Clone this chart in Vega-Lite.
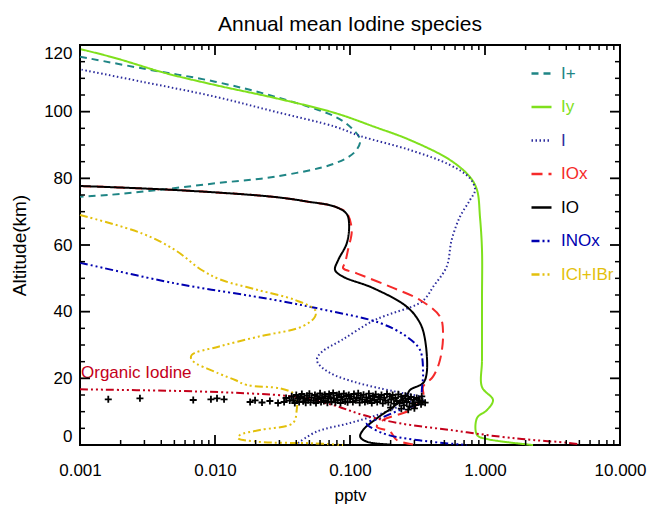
{
  "$schema": "https://vega.github.io/schema/vega-lite/v6.json",
  "width": 540,
  "height": 400,
  "autosize": {"type": "none"},
  "padding": {"left": 80, "top": 45, "right": 29, "bottom": 60},
  "background": "white",
  "title": {"text": "Annual mean Iodine species", "fontSize": 21, "font": "Liberation Sans", "fontWeight": "normal", "color": "black", "offset": 6},
  "datasets": {
    "lines": [
      {"s":"I+","i":1,"x":0.001,"y":116.5},{"s":"I+","i":2,"x":0.00287,"y":113.0},{"s":"I+","i":3,"x":0.01,"y":109.0},{"s":"I+","i":4,"x":0.0278,"y":104.5},{"s":"I+","i":5,"x":0.0775,"y":98.5},{"s":"I+","i":6,"x":0.103,"y":95.0},{"s":"I+","i":7,"x":0.119,"y":91.5},{"s":"I+","i":8,"x":0.109,"y":88.0},{"s":"I+","i":9,"x":0.0775,"y":84.5},{"s":"I+","i":10,"x":0.0278,"y":80.5},{"s":"I+","i":11,"x":0.01,"y":78.5},{"s":"I+","i":12,"x":0.00378,"y":76.5},{"s":"I+","i":13,"x":0.00161,"y":75.0},{"s":"I+","i":14,"x":0.001,"y":74.5},
      {"s":"Iy","i":1,"x":0.001,"y":118.8},{"s":"Iy","i":2,"x":0.00182,"y":116.1},{"s":"Iy","i":3,"x":0.00427,"y":111.6},{"s":"Iy","i":4,"x":0.01,"y":108},{"s":"Iy","i":5,"x":0.0278,"y":104.1},{"s":"Iy","i":6,"x":0.0775,"y":99.6},{"s":"Iy","i":7,"x":0.153,"y":95.4},{"s":"Iy","i":8,"x":0.278,"y":91.5},{"s":"Iy","i":9,"x":0.551,"y":85.5},{"s":"Iy","i":10,"x":0.774,"y":80.4},{"s":"Iy","i":11,"x":0.873,"y":76.5},{"s":"Iy","i":12,"x":0.918,"y":68.4},{"s":"Iy","i":13,"x":0.95,"y":58.5},{"s":"Iy","i":14,"x":0.95,"y":43.5},{"s":"Iy","i":15,"x":0.95,"y":25.5},{"s":"Iy","i":16,"x":0.95,"y":17.4},{"s":"Iy","i":17,"x":1.146,"y":13.5},{"s":"Iy","i":18,"x":1.035,"y":10.5},{"s":"Iy","i":19,"x":0.873,"y":8.1},{"s":"Iy","i":20,"x":0.873,"y":3},{"s":"Iy","i":21,"x":1.035,"y":1.8},{"s":"Iy","i":22,"x":2.27,"y":0},
      {"s":"I","i":1,"x":0.0412,"y":0.6},{"s":"I","i":2,"x":0.0566,"y":4},{"s":"I","i":3,"x":0.1,"y":6.6},{"s":"I","i":4,"x":0.176,"y":9.6},{"s":"I","i":5,"x":0.263,"y":12.6},{"s":"I","i":6,"x":0.34,"y":14.3},{"s":"I","i":7,"x":0.25,"y":15.5},{"s":"I","i":8,"x":0.176,"y":16.8},{"s":"I","i":9,"x":0.11,"y":18.8},{"s":"I","i":10,"x":0.072,"y":21.5},{"s":"I","i":11,"x":0.058,"y":24.5},{"s":"I","i":12,"x":0.057,"y":26},{"s":"I","i":13,"x":0.062,"y":28},{"s":"I","i":14,"x":0.0869,"y":31.5},{"s":"I","i":15,"x":0.153,"y":37.5},{"s":"I","i":16,"x":0.33,"y":42.6},{"s":"I","i":17,"x":0.37,"y":44.5},{"s":"I","i":18,"x":0.412,"y":47.4},{"s":"I","i":19,"x":0.52,"y":53.5},{"s":"I","i":20,"x":0.566,"y":61.5},{"s":"I","i":21,"x":0.653,"y":68.5},{"s":"I","i":22,"x":0.774,"y":73.5},{"s":"I","i":23,"x":0.844,"y":76.5},{"s":"I","i":24,"x":0.774,"y":80},{"s":"I","i":25,"x":0.551,"y":84},{"s":"I","i":26,"x":0.278,"y":88.5},{"s":"I","i":27,"x":0.119,"y":92.7},{"s":"I","i":28,"x":0.0775,"y":95.5},{"s":"I","i":29,"x":0.0278,"y":100},{"s":"I","i":30,"x":0.01,"y":104.5},{"s":"I","i":31,"x":0.00287,"y":109},{"s":"I","i":32,"x":0.001,"y":112.7},
      {"s":"IOx","i":1,"x":0.001,"y":77.7},{"s":"IOx","i":2,"x":0.00506,"y":76.5},{"s":"IOx","i":3,"x":0.0278,"y":74.4},{"s":"IOx","i":4,"x":0.0489,"y":73.0},{"s":"IOx","i":5,"x":0.0775,"y":71.5},{"s":"IOx","i":6,"x":0.0946,"y":69.6},{"s":"IOx","i":7,"x":0.103,"y":64.5},{"s":"IOx","i":8,"x":0.0966,"y":58.5},{"s":"IOx","i":9,"x":0.0918,"y":54.6},{"s":"IOx","i":10,"x":0.0888,"y":53.1},{"s":"IOx","i":11,"x":0.112,"y":51.5},{"s":"IOx","i":12,"x":0.198,"y":47.5},{"s":"IOx","i":13,"x":0.33,"y":43.5},{"s":"IOx","i":14,"x":0.464,"y":38.5},{"s":"IOx","i":15,"x":0.489,"y":33.6},{"s":"IOx","i":16,"x":0.464,"y":25.5},{"s":"IOx","i":17,"x":0.412,"y":20.5},{"s":"IOx","i":18,"x":0.348,"y":17.5},{"s":"IOx","i":19,"x":0.348,"y":14.5},{"s":"IOx","i":20,"x":0.278,"y":10.5},{"s":"IOx","i":21,"x":0.176,"y":7.5},{"s":"IOx","i":22,"x":0.158,"y":5.5},{"s":"IOx","i":23,"x":0.198,"y":4},{"s":"IOx","i":24,"x":0.222,"y":1.5},{"s":"IOx","i":25,"x":0.293,"y":0.15},
      {"s":"IO","i":1,"x":0.001,"y":77.7},{"s":"IO","i":2,"x":0.00506,"y":76.5},{"s":"IO","i":3,"x":0.0278,"y":74.4},{"s":"IO","i":4,"x":0.0489,"y":73.0},{"s":"IO","i":5,"x":0.0775,"y":71.5},{"s":"IO","i":6,"x":0.0946,"y":69.3},{"s":"IO","i":7,"x":0.0985,"y":66},{"s":"IO","i":8,"x":0.0946,"y":60.5},{"s":"IO","i":9,"x":0.0818,"y":55.5},{"s":"IO","i":10,"x":0.0775,"y":52.5},{"s":"IO","i":11,"x":0.0888,"y":50.5},{"s":"IO","i":12,"x":0.148,"y":47.1},{"s":"IO","i":13,"x":0.263,"y":41.5},{"s":"IO","i":14,"x":0.33,"y":36.6},{"s":"IO","i":15,"x":0.36,"y":31.5},{"s":"IO","i":16,"x":0.37,"y":21.6},{"s":"IO","i":17,"x":0.348,"y":18.6},{"s":"IO","i":18,"x":0.278,"y":16.5},{"s":"IO","i":19,"x":0.263,"y":14.8},{"s":"IO","i":20,"x":0.21,"y":11.5},{"s":"IO","i":21,"x":0.158,"y":8},{"s":"IO","i":22,"x":0.125,"y":4.5},{"s":"IO","i":23,"x":0.119,"y":2.5},{"s":"IO","i":24,"x":0.133,"y":1},{"s":"IO","i":25,"x":0.198,"y":0.15},
      {"s":"INOx","i":1,"x":0.001,"y":54.7},{"s":"INOx","i":2,"x":0.00506,"y":48.5},{"s":"INOx","i":3,"x":0.0278,"y":43.5},{"s":"INOx","i":4,"x":0.0654,"y":40.5},{"s":"INOx","i":5,"x":0.167,"y":36.6},{"s":"INOx","i":6,"x":0.263,"y":32.5},{"s":"INOx","i":7,"x":0.33,"y":28.5},{"s":"INOx","i":8,"x":0.348,"y":21.6},{"s":"INOx","i":9,"x":0.34,"y":15.6},{"s":"INOx","i":10,"x":0.348,"y":13},{"s":"INOx","i":11,"x":0.234,"y":10.5},{"s":"INOx","i":12,"x":0.167,"y":8},{"s":"INOx","i":13,"x":0.133,"y":6.5},{"s":"INOx","i":14,"x":0.176,"y":3.5},{"s":"INOx","i":15,"x":0.312,"y":1.5},{"s":"INOx","i":16,"x":0.732,"y":0},
      {"s":"ICl+IBr","i":1,"x":0.001,"y":69},{"s":"ICl+IBr","i":2,"x":0.00287,"y":63.5},{"s":"ICl+IBr","i":3,"x":0.00506,"y":58.5},{"s":"ICl+IBr","i":4,"x":0.00796,"y":52.5},{"s":"ICl+IBr","i":5,"x":0.0112,"y":49.5},{"s":"ICl+IBr","i":6,"x":0.0209,"y":46.5},{"s":"ICl+IBr","i":7,"x":0.0392,"y":43.5},{"s":"ICl+IBr","i":8,"x":0.0551,"y":40.5},{"s":"ICl+IBr","i":9,"x":0.0551,"y":38.5},{"s":"ICl+IBr","i":10,"x":0.0439,"y":35.5},{"s":"ICl+IBr","i":11,"x":0.0209,"y":32.5},{"s":"ICl+IBr","i":12,"x":0.0106,"y":29.5},{"s":"ICl+IBr","i":13,"x":0.00672,"y":27},{"s":"ICl+IBr","i":14,"x":0.00672,"y":25.5},{"s":"ICl+IBr","i":15,"x":0.0106,"y":21.5},{"s":"ICl+IBr","i":16,"x":0.0141,"y":19.5},{"s":"ICl+IBr","i":17,"x":0.0172,"y":18},{"s":"ICl+IBr","i":18,"x":0.0303,"y":17},{"s":"ICl+IBr","i":19,"x":0.038,"y":15.5},{"s":"ICl+IBr","i":20,"x":0.0403,"y":13.5},{"s":"ICl+IBr","i":21,"x":0.0403,"y":10.5},{"s":"ICl+IBr","i":22,"x":0.0378,"y":6.6},{"s":"ICl+IBr","i":23,"x":0.0215,"y":4.5},{"s":"ICl+IBr","i":24,"x":0.0153,"y":3},{"s":"ICl+IBr","i":25,"x":0.0148,"y":2.1},{"s":"ICl+IBr","i":26,"x":0.0204,"y":1},{"s":"ICl+IBr","i":27,"x":0.0532,"y":0.5},{"s":"ICl+IBr","i":28,"x":0.0888,"y":0}
    ],
    "organic": [
      {"i":1,"x":0.001,"y":16.7},{"i":2,"x":0.00551,"y":16.2},{"i":3,"x":0.0172,"y":15.5},{"i":4,"x":0.0403,"y":14.4},{"i":5,"x":0.0748,"y":12},{"i":6,"x":0.125,"y":9},{"i":7,"x":0.234,"y":6.5},{"i":8,"x":0.551,"y":4.5},{"i":9,"x":1.29,"y":2.5},{"i":10,"x":2.27,"y":1.5},{"i":11,"x":4.03,"y":0.7},{"i":12,"x":5.06,"y":0.15}
    ],
    "obs": [
      {"x":0.00162,"y":13.7},{"x":0.00278,"y":14.0},{"x":0.0069,"y":13.5},{"x":0.00933,"y":13.7},{"x":0.01035,"y":14.0},{"x":0.01167,"y":13.7},{"x":0.0182,"y":12.9},{"x":0.0198,"y":13.4},{"x":0.0223,"y":12.75},{"x":0.0255,"y":13.2},{"x":0.0293,"y":12.6},{"x":0.0325,"y":12.9},{"x":0.0336,"y":14.1},{"x":0.0358,"y":13.35},
      {"x":0.037,"y":14.6},{"x":0.038,"y":13.4},{"x":0.039,"y":12.6},{"x":0.040,"y":15.0},{"x":0.041,"y":13.9},{"x":0.042,"y":12.9},{"x":0.043,"y":14.4},{"x":0.044,"y":15.3},{"x":0.045,"y":13.1},{"x":0.046,"y":14.0},{"x":0.047,"y":12.7},{"x":0.048,"y":14.8},{"x":0.049,"y":13.5},{"x":0.050,"y":15.4},{"x":0.051,"y":12.8},{"x":0.052,"y":14.2},{"x":0.054,"y":13.3},{"x":0.055,"y":15.0},{"x":0.056,"y":12.6},{"x":0.057,"y":14.5},{"x":0.058,"y":13.8},{"x":0.060,"y":15.5},{"x":0.061,"y":12.9},{"x":0.062,"y":14.1},{"x":0.064,"y":13.2},{"x":0.065,"y":15.1},{"x":0.066,"y":14.6},{"x":0.068,"y":12.7},{"x":0.069,"y":13.9},{"x":0.070,"y":15.3},{"x":0.072,"y":14.3},{"x":0.073,"y":13.0},{"x":0.075,"y":15.6},{"x":0.076,"y":14.0},{"x":0.078,"y":12.8},{"x":0.080,"y":14.9},{"x":0.081,"y":13.5},{"x":0.083,"y":15.2},{"x":0.085,"y":12.6},{"x":0.086,"y":14.4},{"x":0.088,"y":13.7},{"x":0.090,"y":15.4},{"x":0.092,"y":13.1},{"x":0.094,"y":14.7},{"x":0.096,"y":12.8},{"x":0.098,"y":15.0},{"x":0.100,"y":13.9},{"x":0.102,"y":14.5},{"x":0.105,"y":12.9},{"x":0.107,"y":15.3},{"x":0.110,"y":13.4},{"x":0.112,"y":14.1},{"x":0.115,"y":15.5},{"x":0.118,"y":12.7},{"x":0.120,"y":14.8},{"x":0.123,"y":13.6},{"x":0.126,"y":15.1},{"x":0.129,"y":12.9},{"x":0.132,"y":14.3},{"x":0.135,"y":13.2},{"x":0.138,"y":15.4},{"x":0.141,"y":14.0},{"x":0.145,"y":12.6},{"x":0.148,"y":14.7},{"x":0.152,"y":13.5},{"x":0.155,"y":15.2},{"x":0.159,"y":12.9},{"x":0.163,"y":14.4},{"x":0.167,"y":13.7},{"x":0.171,"y":15.0},{"x":0.175,"y":12.5},{"x":0.179,"y":14.2},{"x":0.183,"y":13.3},{"x":0.188,"y":15.3},{"x":0.192,"y":12.8},{"x":0.197,"y":14.6},{"x":0.202,"y":13.6},{"x":0.207,"y":15.0},{"x":0.212,"y":12.4},{"x":0.217,"y":14.1},{"x":0.222,"y":13.2},{"x":0.228,"y":15.2},{"x":0.233,"y":12.6},{"x":0.239,"y":14.5},{"x":0.245,"y":13.4},{"x":0.251,"y":11.9},{"x":0.257,"y":14.8},{"x":0.263,"y":12.9},{"x":0.270,"y":13.8},{"x":0.276,"y":11.6},{"x":0.283,"y":14.4},{"x":0.290,"y":12.5},{"x":0.297,"y":13.6},{"x":0.304,"y":12.0},{"x":0.312,"y":14.1},{"x":0.320,"y":12.8},{"x":0.328,"y":13.4},{"x":0.336,"y":12.2},{"x":0.345,"y":13.0},{"x":0.360,"y":12.7},{"x":0.340,"y":14.6},{"x":0.20,"y":11.2},{"x":0.24,"y":10.9},{"x":0.27,"y":10.6},{"x":0.30,"y":11.0}
    ],
    "label": [{"x":0.001,"y":20,"t":"Organic Iodine"}],
    "xt": [
      {"v":0.001,"m":1},{"v":0.002,"m":0},{"v":0.003,"m":0},{"v":0.004,"m":0},{"v":0.005,"m":0},{"v":0.006,"m":0},{"v":0.007,"m":0},{"v":0.008,"m":0},{"v":0.009,"m":0},
      {"v":0.01,"m":1},{"v":0.02,"m":0},{"v":0.03,"m":0},{"v":0.04,"m":0},{"v":0.05,"m":0},{"v":0.06,"m":0},{"v":0.07,"m":0},{"v":0.08,"m":0},{"v":0.09,"m":0},
      {"v":0.1,"m":1},{"v":0.2,"m":0},{"v":0.3,"m":0},{"v":0.4,"m":0},{"v":0.5,"m":0},{"v":0.6,"m":0},{"v":0.7,"m":0},{"v":0.8,"m":0},{"v":0.9,"m":0},
      {"v":1,"m":1},{"v":2,"m":0},{"v":3,"m":0},{"v":4,"m":0},{"v":5,"m":0},{"v":6,"m":0},{"v":7,"m":0},{"v":8,"m":0},{"v":9,"m":0},{"v":10,"m":1}
    ],
    "yt": [
      {"v":0,"m":1},{"v":5,"m":0},{"v":10,"m":0},{"v":15,"m":0},{"v":20,"m":1},{"v":25,"m":0},{"v":30,"m":0},{"v":35,"m":0},{"v":40,"m":1},{"v":45,"m":0},{"v":50,"m":0},{"v":55,"m":0},{"v":60,"m":1},{"v":65,"m":0},{"v":70,"m":0},{"v":75,"m":0},{"v":80,"m":1},{"v":85,"m":0},{"v":90,"m":0},{"v":95,"m":0},{"v":100,"m":1},{"v":105,"m":0},{"v":110,"m":0},{"v":115,"m":0},{"v":120,"m":1}
    ]
  },
  "layer": [
    {
      "data": {"name": "lines"},
      "mark": {"type": "line", "strokeWidth": 2, "interpolate": "catmull-rom"},
      "encoding": {
        "x": {"field": "x", "type": "quantitative",
          "scale": {"type": "log", "domain": [0.001, 10], "nice": false},
          "axis": {"orient": "bottom", "title": "pptv", "titleFontSize": 17, "titlePadding": 9,
            "values": [0.001,0.01,0.1,1,10],
            "format": ".3f",
            "ticks": false, "tickSize": 0,
            "labelPadding": 17, "labelFlush": false, "labelOverlap": false, "labelFontSize": 17}},
        "y": {"field": "y", "type": "quantitative",
          "scale": {"domain": [0, 120], "nice": false},
          "axis": {"orient": "left", "title": "Altitude(km)", "titleFontSize": 19, "titlePadding": 14,
            "values": [0,20,40,60,80,100,120],
            "ticks": false, "tickSize": 0,
            "labelPadding": 8, "labelFlush": true, "labelOverlap": false, "labelFontSize": 17}},
        "order": {"field": "i", "type": "quantitative"},
        "color": {"field": "s", "type": "nominal",
          "scale": {"domain": ["I+","Iy","I","IOx","IO","INOx","ICl+IBr"], "range": ["#1f8585","#7fe01c","#2e2e9e","#f52a2a","#000000","#0000b0","#e3c00c"]},
          "legend": {"orient": "none", "legendX": 450, "legendY": 17, "title": null, "padding": 0,
            "symbolType": "stroke", "symbolSize": 400, "symbolStrokeWidth": 2.5, "labelFontSize": 17, "labelOffset": 8, "rowPadding": 13.5,
            "encode": {"labels": {"update": {"fill": {"scale": "color", "field": "value"}}}}}},
        "strokeDash": {"field": "s", "type": "nominal",
          "scale": {"domain": ["I+","Iy","I","IOx","IO","INOx","ICl+IBr"], "range": [[7,5],[1,0],[1.5,2.5],[11,6],[1,0],[8,3,2,3,2,3,2,3],[8,3,2,3,2,3,2,3]]},
          "legend": {"orient": "none", "legendX": 450, "legendY": 17, "title": null, "padding": 0,
            "symbolType": "stroke", "symbolSize": 400, "symbolStrokeWidth": 2.5, "labelFontSize": 17, "labelOffset": 8, "rowPadding": 13.5,
            "encode": {"labels": {"update": {"fill": {"scale": "color", "field": "value"}}}}}}
      }
    },
    {
      "data": {"name": "organic"},
      "mark": {"type": "line", "strokeWidth": 2, "interpolate": "catmull-rom", "color": "#c4001a", "strokeDash": [8,3,2,3,2,3,2,3]},
      "encoding": {
        "x": {"field": "x", "type": "quantitative"},
        "y": {"field": "y", "type": "quantitative"},
        "order": {"field": "i", "type": "quantitative"}
      }
    },
    {
      "data": {"name": "obs"},
      "mark": {"type": "point", "shape": "M-1,0H1M0,-1V1", "filled": false, "stroke": "black", "strokeWidth": 1.8, "size": 49, "opacity": 1},
      "encoding": {
        "x": {"field": "x", "type": "quantitative"},
        "y": {"field": "y", "type": "quantitative"}
      }
    },
    {
      "data": {"name": "label"},
      "mark": {"type": "text", "align": "left", "baseline": "alphabetic", "dx": 1, "fontSize": 17, "font": "Liberation Sans", "color": "#c4001a"},
      "encoding": {
        "x": {"field": "x", "type": "quantitative"},
        "y": {"field": "y", "type": "quantitative"},
        "text": {"field": "t"}
      }
    },
    {
      "data": {"name": "xt"},
      "transform": [{"filter": "datum.m == 1"}],
      "mark": {"type": "point", "shape": "M0,0V-1", "filled": false, "stroke": "black", "strokeWidth": 1.8, "size": 400, "opacity": 1},
      "encoding": {"x": {"field": "v", "type": "quantitative"}, "y": {"datum": 0}}
    },
    {
      "data": {"name": "xt"},
      "transform": [{"filter": "datum.m == 0"}],
      "mark": {"type": "point", "shape": "M0,0V-1", "filled": false, "stroke": "black", "strokeWidth": 1.5, "size": 100, "opacity": 1},
      "encoding": {"x": {"field": "v", "type": "quantitative"}, "y": {"datum": 0}}
    },
    {
      "data": {"name": "xt"},
      "transform": [{"filter": "datum.m == 1"}],
      "mark": {"type": "point", "shape": "M0,0V1", "filled": false, "stroke": "black", "strokeWidth": 1.8, "size": 400, "opacity": 1},
      "encoding": {"x": {"field": "v", "type": "quantitative"}, "y": {"datum": 120}}
    },
    {
      "data": {"name": "xt"},
      "transform": [{"filter": "datum.m == 0"}],
      "mark": {"type": "point", "shape": "M0,0V1", "filled": false, "stroke": "black", "strokeWidth": 1.5, "size": 100, "opacity": 1},
      "encoding": {"x": {"field": "v", "type": "quantitative"}, "y": {"datum": 120}}
    },
    {
      "data": {"name": "yt"},
      "transform": [{"filter": "datum.m == 1"}],
      "mark": {"type": "point", "shape": "M0,0H1", "filled": false, "stroke": "black", "strokeWidth": 1.8, "size": 400, "opacity": 1},
      "encoding": {"y": {"field": "v", "type": "quantitative"}, "x": {"datum": 0.001}}
    },
    {
      "data": {"name": "yt"},
      "transform": [{"filter": "datum.m == 0"}],
      "mark": {"type": "point", "shape": "M0,0H1", "filled": false, "stroke": "black", "strokeWidth": 1.5, "size": 100, "opacity": 1},
      "encoding": {"y": {"field": "v", "type": "quantitative"}, "x": {"datum": 0.001}}
    },
    {
      "data": {"name": "yt"},
      "transform": [{"filter": "datum.m == 1"}],
      "mark": {"type": "point", "shape": "M0,0H-1", "filled": false, "stroke": "black", "strokeWidth": 1.8, "size": 400, "opacity": 1},
      "encoding": {"y": {"field": "v", "type": "quantitative"}, "x": {"datum": 10}}
    },
    {
      "data": {"name": "yt"},
      "transform": [{"filter": "datum.m == 0"}],
      "mark": {"type": "point", "shape": "M0,0H-1", "filled": false, "stroke": "black", "strokeWidth": 1.5, "size": 100, "opacity": 1},
      "encoding": {"y": {"field": "v", "type": "quantitative"}, "x": {"datum": 10}}
    }
  ],
  "config": {
    "font": "Liberation Sans",
    "view": {"stroke": "black", "strokeWidth": 2},
    "axis": {"grid": false, "domain": false, "labelColor": "black", "labelFont": "Liberation Sans", "titleFont": "Liberation Sans", "titleFontWeight": "normal", "titleColor": "black"},
    "legend": {"labelFont": "Liberation Sans"}
  }
}
